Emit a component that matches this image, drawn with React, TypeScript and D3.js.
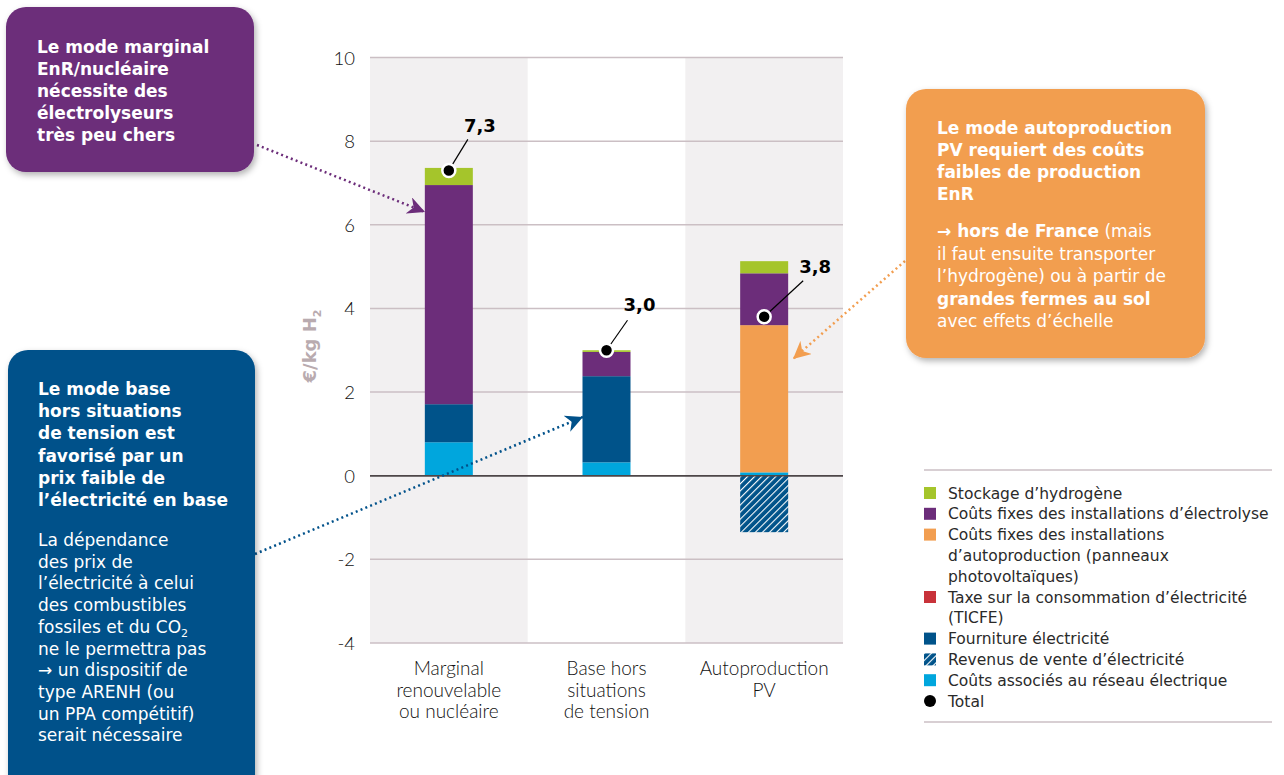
import React from "react";
import * as d3 from "d3";

const categories = [
  ["Marginal", "renouvelable", "ou nucléaire"],
  ["Base hors", "situations", "de tension"],
  ["Autoproduction", "PV"],
];
const reseau = [0.8, 0.32, 0.08];
const fourniture = [0.91, 2.06, 0];
const taxe = [0, 0, 0];
const autoproduction = [0, 0, 3.52];
const electrolyse = [5.24, 0.58, 1.24];
const stockage = [0.41, 0.04, 0.29];
const revenus = [0, 0, -1.35];
const totals = [7.3, 3.0, 3.8];
const totalLabels = ["7,3", "3,0", "3,8"];
const yTicks = [-4, -2, 0, 2, 4, 6, 8, 10];
const legendItems = [
  { key: "stockage", lines: ["Stockage d’hydrogène"] },
  { key: "electrolyse", lines: ["Coûts fixes des installations d’électrolyse"] },
  { key: "autoproduction", lines: ["Coûts fixes des installations", "d’autoproduction (panneaux", "photovoltaïques)"] },
  { key: "taxe", lines: ["Taxe sur la consommation d’électricité", "(TICFE)"] },
  { key: "fourniture", lines: ["Fourniture électricité"] },
  { key: "revenus", lines: ["Revenus de vente d’électricité"] },
  { key: "reseau", lines: ["Coûts associés au réseau électrique"] },
  { key: "total", lines: ["Total"] },
];

const COLORS: Record<string, string> = {
  reseau: "#00a6dd",
  fourniture: "#00538a",
  taxe: "#c8323a",
  autoproduction: "#f29e50",
  electrolyse: "#6c2d7a",
  stockage: "#a5c52b",
  revenus: "url(#hatch)",
};
const PURPLE = "#6c2d7a";
const BLUE = "#00518a";
const ORANGE = "#f29e50";
const GRID = "#cbbfc4";
const BAND = "#f2f0f1";

const seriesKeys = ["reseau", "fourniture", "taxe", "autoproduction", "electrolyse", "stockage", "revenus"];
const seriesVals: Record<string, number[]> = { reseau, fourniture, taxe, autoproduction, electrolyse, stockage, revenus };

const labelOffsets = [
  { lx: 19, ly: -31, tx: 31, ty: -38 },
  { lx: 21, ly: -30, tx: 33, ty: -39 },
  { lx: 39, ly: -36, tx: 51, ty: -44 },
];

export default function App() {
  const W = 1284, H = 775;
  const x = d3.scaleBand<number>().domain([0, 1, 2]).range([370, 843]).padding(0);
  const y = d3.scaleLinear().domain([-4, 10]).range([643, 57.5]);
  const barW = 48;

  const rows = categories.map((_, i) => {
    const r: any = { i };
    seriesKeys.forEach((k) => (r[k] = seriesVals[k][i]));
    return r;
  });
  const stacked = d3.stack<any>().keys(seriesKeys).offset(d3.stackOffsetDiverging)(rows);

  const sans = "'DejaVu Sans', Verdana, sans-serif";
  const light = "Lato, 'Open Sans', sans-serif";

  return (
    <svg width={W} height={H} style={{ position: "absolute", left: 0, top: 0 }} fontFamily={sans}>
      <defs>
        <pattern id="hatch" patternUnits="userSpaceOnUse" width="5" height="5" patternTransform="rotate(45)">
          <rect width="5" height="5" fill="#00538a" />
          <line x1="0" y1="0" x2="0" y2="5" stroke="#fff" strokeWidth="2.2" />
        </pattern>
        <filter id="shadow" x="-10%" y="-10%" width="130%" height="130%">
          <feDropShadow dx="2" dy="3" stdDeviation="3" floodColor="#000" floodOpacity="0.3" />
        </filter>
        {[["arrP", PURPLE], ["arrB", BLUE], ["arrO", ORANGE]].map(([id, c]) => (
          <marker key={id} id={id} viewBox="0 0 10 10" refX="10" refY="5" markerWidth="7" markerHeight="7" markerUnits="strokeWidth" orient="auto">
            <path d="M0,0 L10,5 L0,10 L3,5 Z" fill={c} />
          </marker>
        ))}
      </defs>
      <rect width={W} height={H} fill="#fff" />

      {/* bands */}
      {[0, 2].map((i) => (
        <rect key={i} x={x(i)} y={y(10)} width={x.bandwidth()} height={y(-4) - y(10)} fill={BAND} />
      ))}
      {/* grid */}
      {yTicks.map((t) => (
        <g key={t}>
          <line x1={370} x2={843} y1={y(t)} y2={y(t)} stroke={t === 0 ? "#4d4648" : GRID} strokeWidth={1.5} />
          <text x={355} y={y(t) + 7} textAnchor="end" fontFamily={light} fontWeight={300} fontSize={18.5} fill="#111">
            {t}
          </text>
        </g>
      ))}
      {/* bars */}
      {stacked.map((s) => (
        <g key={s.key}>
          {s.map((d, i) =>
            d[1] - d[0] === 0 ? null : (
              <rect
                key={i}
                x={(x(i) as number) + x.bandwidth() / 2 - barW / 2}
                y={y(Math.max(d[0], d[1]))}
                width={barW}
                height={Math.abs(y(d[0]) - y(d[1]))}
                fill={COLORS[s.key]}
              />
            )
          )}
        </g>
      ))}
      {/* zero line on top */}
      <line x1={370} x2={843} y1={y(0)} y2={y(0)} stroke="#4d4648" strokeWidth={1.5} />

      {/* totals */}
      {totals.map((t, i) => {
        const cx = (x(i) as number) + x.bandwidth() / 2;
        const cy = y(t);
        const o = labelOffsets[i];
        return (
          <g key={i}>
            <line x1={cx} y1={cy} x2={cx + o.lx} y2={cy + o.ly} stroke="#000" strokeWidth={1.2} />
            <circle cx={cx} cy={cy} r={6.5} fill="#000" stroke="#fff" strokeWidth={2.5} />
            <text x={cx + o.tx} y={cy + o.ty} textAnchor="middle" fontWeight="bold" fontSize={18} fill="#000">
              {totalLabels[i]}
            </text>
          </g>
        );
      })}

      {/* category labels */}
      {categories.map((lines, i) => (
        <text key={i} x={(x(i) as number) + x.bandwidth() / 2} textAnchor="middle" fontFamily={light} fontWeight={300} fontSize={19} fill="#111">
          {lines.map((l, j) => (
            <tspan key={j} x={(x(i) as number) + x.bandwidth() / 2} y={675 + j * 21.7}>
              {l}
            </tspan>
          ))}
        </text>
      ))}

      {/* y title */}
      <text transform="translate(316,346) rotate(-90)" textAnchor="middle" fontWeight="bold" fontSize={18} fill="#b9abaf">
        €/kg H<tspan fontSize={11} dy={5}>2</tspan>
      </text>

      {/* legend */}
      <line x1={924} x2={1272} y1={470} y2={470} stroke={GRID} strokeWidth={1.5} />
      <line x1={924} x2={1272} y1={722} y2={722} stroke={GRID} strokeWidth={1.5} />
      {(() => {
        let lineIdx = 0;
        return legendItems.map((it) => {
          const cy = 493 + lineIdx * 20.8;
          const start = lineIdx;
          lineIdx += it.lines.length;
          return (
            <g key={it.key}>
              {it.key === "total" ? (
                <circle cx={930} cy={cy} r={6} fill="#000" />
              ) : (
                <rect x={924} y={cy - 6} width={12} height={12} fill={COLORS[it.key]} />
              )}
              {it.lines.map((l, j) => (
                <text key={j} x={948} y={493 + (start + j) * 20.8 + 5.5} fontSize={15.5} fill="#2a2a2a">
                  {l}
                </text>
              ))}
            </g>
          );
        });
      })()}

      {/* arrows */}
      <line x1={257} y1={145} x2={425} y2={212} stroke={PURPLE} strokeWidth={2.5} strokeDasharray="2 3.2" markerEnd="url(#arrP)" />
      <line x1={255} y1={554} x2={583} y2={417} stroke={BLUE} strokeWidth={2.5} strokeDasharray="2 3.2" markerEnd="url(#arrB)" />
      <line x1={905} y1={261} x2={793} y2={359} stroke={ORANGE} strokeWidth={2.5} strokeDasharray="2 3.2" markerEnd="url(#arrO)" />

      {/* purple box */}
      <rect x={6} y={7} width={248} height={165} rx={20} fill={PURPLE} filter="url(#shadow)" />
      <text fontSize={17} fontWeight="bold" fill="#fff">
        {["Le mode marginal", "EnR/nucléaire", "nécessite des", "électrolyseurs", "très peu chers"].map((l, j) => (
          <tspan key={j} x={37} y={53 + j * 22}>{l}</tspan>
        ))}
      </text>

      {/* blue box */}
      <rect x={8} y={350} width={247} height={460} rx={20} fill={BLUE} filter="url(#shadow)" />
      <text fontSize={17} fontWeight="bold" fill="#fff">
        {["Le mode base", "hors situations", "de tension est", "favorisé par un", "prix faible de", "l’électricité en base"].map((l, j) => (
          <tspan key={j} x={38} y={395 + j * 22.2}>{l}</tspan>
        ))}
      </text>
      <text fontSize={17} fill="#fff">
        <tspan x={38} y={546}>La dépendance</tspan>
        <tspan x={38} y={546 + 21.7}>des prix de</tspan>
        <tspan x={38} y={546 + 2 * 21.7}>l’électricité à celui</tspan>
        <tspan x={38} y={546 + 3 * 21.7}>des combustibles</tspan>
        <tspan x={38} y={546 + 4 * 21.7}>fossiles et du CO</tspan>
        <tspan fontSize={11} dy={4}>2</tspan>
        <tspan x={38} y={546 + 5 * 21.7}>ne le permettra pas</tspan>
        <tspan x={38} y={546 + 6 * 21.7}>→ un dispositif de</tspan>
        <tspan x={38} y={546 + 7 * 21.7}>type ARENH (ou</tspan>
        <tspan x={38} y={546 + 8 * 21.7}>un PPA compétitif)</tspan>
        <tspan x={38} y={546 + 9 * 21.7}>serait nécessaire</tspan>
      </text>

      {/* orange box */}
      <rect x={906} y={89} width={299} height={269} rx={20} fill={ORANGE} filter="url(#shadow)" />
      <text fontSize={17} fontWeight="bold" fill="#fff">
        {["Le mode autoproduction", "PV requiert des coûts", "faibles de production", "EnR"].map((l, j) => (
          <tspan key={j} x={937} y={134 + j * 22}>{l}</tspan>
        ))}
      </text>
      <text fontSize={17} fill="#fff">
        <tspan x={937} y={237} fontWeight="bold">→ hors de France</tspan>
        <tspan> (mais</tspan>
        <tspan x={937} y={237 + 22.5}>il faut ensuite transporter</tspan>
        <tspan x={937} y={237 + 45}>l’hydrogène) ou à partir de</tspan>
        <tspan x={937} y={237 + 67.5} fontWeight="bold">grandes fermes au sol</tspan>
        <tspan x={937} y={237 + 90}>avec effets d’échelle</tspan>
      </text>
    </svg>
  );
}
